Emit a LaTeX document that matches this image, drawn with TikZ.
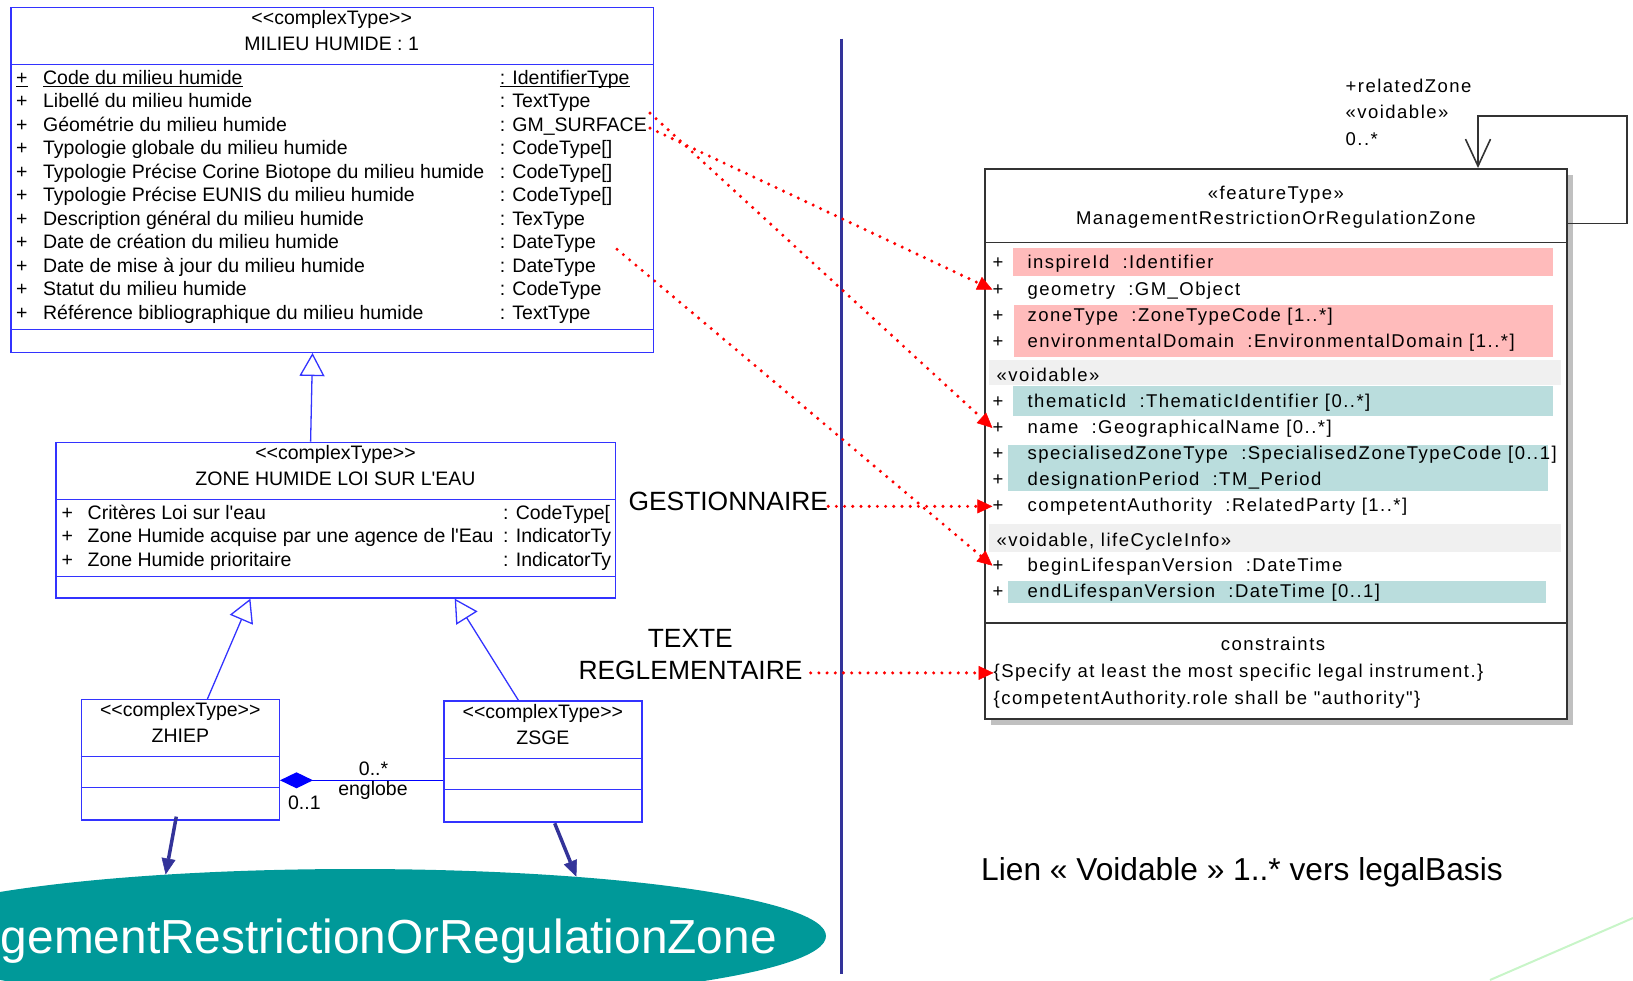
\documentclass[tikz,border=0pt]{standalone}
\usepackage{fontspec}
\newfontfamily\umlfont{Liberation Sans}
\newfontfamily\zonefont{Liberation Sans}[LetterSpace=8]
\usetikzlibrary{arrows.meta,shapes.geometric,positioning}

\definecolor{umlblue}{RGB}{51,51,255}
\definecolor{barblue}{RGB}{51,51,153}
\definecolor{mrzteal}{RGB}{0,153,153}
\definecolor{bandpink}{RGB}{255,187,187}
\definecolor{bandteal}{RGB}{186,221,221}
\definecolor{bandgray}{RGB}{240,240,240}
\definecolor{shadowgray}{RGB}{192,192,192}
\definecolor{boxgray}{RGB}{51,51,51}
\definecolor{paleg}{RGB}{200,245,200}

\begin{document}
\begin{tikzpicture}[x=1pt, y=-1pt,
    cls/.style={draw=umlblue, line width=1.3pt, anchor=north west, inner sep=0pt},
    divider/.style={umlblue, line width=1.3pt},
    attr/.style={font=\umlfont\fontsize{19.5}{23}\selectfont, inner sep=0pt, anchor=base west},
    clsname/.style={attr, anchor=base},
    zattr/.style={font=\zonefont\fontsize{18.5}{22}\selectfont, inner sep=0pt, anchor=base west},
    ztitle/.style={zattr, anchor=base},
    bigtext/.style={font=\umlfont\fontsize{26.4}{31}\selectfont, inner sep=0pt, anchor=base},
    boxline/.style={boxgray, line width=1.8pt},
    gen/.style={umlblue, line width=1.3pt, -{Triangle[open, length=23pt, width=25pt, fill=white]}},
    comp/.style={blue, line width=1.3pt, {Diamond[length=33pt, width=16pt, fill=blue]}-},
    impl/.style={barblue, line width=3.5pt, -{Triangle[length=16pt, width=14pt, line width=0.5pt]}},
    selfref/.style={boxgray, line width=1.6pt, -{Straight Barb[length=27pt, width=25pt]}},
    link/.style={red, line width=3.4pt, line cap=round, dash pattern=on 0pt off 8.2pt,
      -{Triangle[length=15pt, width=14pt, line width=0.5pt]}}]
  \useasboundingbox (0,0) rectangle (1633,980);

  % zone in the teal ellipse
  \node[ellipse, fill=mrzteal, minimum width=942pt, minimum height=134pt, inner sep=0pt] (mrz) at (355,936) {};
  \node[font=\umlfont\fontsize{47.8}{50}\selectfont, text=white, inner sep=0pt, anchor=base east] (mrz-nm) at (777,953.3) {gementRestrictionOrRegulationZone};

  % MILIEU HUMIDE
  \node[cls, minimum width=642.6pt, minimum height=344.7pt] (milieu) at (10.4,7) {};
  \draw[divider] (milieu.west |- 0,64.3) -- (milieu.east |- 0,64.3);
  \draw[divider] (milieu.west |- 0,329.3) -- (milieu.east |- 0,329.3);
  \node[clsname] (milieu-st) at (331.7,24.5) {<<complexType>>};
  \node[clsname] (milieu-nm) at (331.7,50.7) {MILIEU HUMIDE : 1};
  \node[clsname] (mp1) at (21.9,84.3) {\underline{+}};
  \node[attr] (mn1) at (42.9,84.3) {\underline{Code du milieu humide}};
  \node[attr] (mt1) at (499.6,84.3) {\underline{\smash{: IdentifierType}\vphantom{C}}};
  \foreach \nm/\ty [count=\i from 2] in {
      {Libellé du milieu humide}/{: TextType},
      {Géométrie du milieu humide}/{: GM\_SURFACE},
      {Typologie globale du milieu humide}/{: CodeType[]},
      {Typologie Précise Corine Biotope du milieu humide}/{: CodeType[]},
      {Typologie Précise EUNIS du milieu humide}/{: CodeType[]},
      {Description général du milieu humide}/{: TexType},
      {Date de création du milieu humide}/{: DateType},
      {Date de mise à jour du milieu humide}/{: DateType},
      {Statut du milieu humide}/{: CodeType},
      {Référence bibliographique du milieu humide}/{: TextType}}{
    \node[clsname] (mp\i) at (21.9,{84.3+23.5*(\i-1)}) {+};
    \node[attr] (mn\i) at (42.9,{84.3+23.5*(\i-1)}) {\nm};
    \node[attr] (mt\i) at (499.6,{84.3+23.5*(\i-1)}) {\ty};
  }

  % ZONE HUMIDE LOI SUR L'EAU
  \node[cls, minimum width=559.3pt, minimum height=155.6pt] (zone) at (55.2,441.7) {};
  \draw[divider] (zone.west |- 0,499.3) -- (zone.east |- 0,499.3);
  \draw[divider] (zone.west |- 0,576.7) -- (zone.east |- 0,576.7);
  \node[clsname] (zone-st) at (zone.north |- 0,459) {<<complexType>>};
  \node[clsname] (zone-nm) at (zone.north |- 0,485.2) {ZONE HUMIDE LOI SUR L'EAU};
  \foreach \nm/\ty [count=\i] in {
      {Critères Loi sur l'eau}/{: CodeType[},
      {Zone Humide acquise par une agence de l'Eau}/{: IndicatorTy},
      {Zone Humide prioritaire}/{: IndicatorTy}}{
    \node[clsname] (zp\i) at (67.3,{519.3+23.4*(\i-1)}) {+};
    \node[attr] (zn\i) at (87.5,{519.3+23.4*(\i-1)}) {\nm};
    \node[attr] (zt\i) at (503,{519.3+23.4*(\i-1)}) {\ty};
  }

  % ZHIEP and ZSGE
  \node[cls, minimum width=198.1pt, minimum height=120.3pt] (zhiep) at (80.6,699) {};
  \draw[divider] (zhiep.west |- 0,756.3) -- (zhiep.east |- 0,756.3);
  \draw[divider] (zhiep.west |- 0,787.3) -- (zhiep.east |- 0,787.3);
  \node[clsname] (zhiep-st) at (zhiep.north |- 0,716.3) {<<complexType>>};
  \node[clsname] (zhiep-nm) at (zhiep.north |- 0,742.9) {ZHIEP};
  \node[cls, minimum width=198.1pt, minimum height=121pt] (zsge) at (443.2,700.3) {};
  \draw[divider] (zsge.west |- 0,758.3) -- (zsge.east |- 0,758.3);
  \draw[divider] (zsge.west |- 0,789.3) -- (zsge.east |- 0,789.3);
  \node[clsname] (zsge-st) at (zsge.north |- 0,718.7) {<<complexType>>};
  \node[clsname] (zsge-nm) at (zsge.north |- 0,744.6) {ZSGE};

  \draw[gen] (zone.north -| 310.6,0) -- (milieu.south -| 312.5,0);
  \draw[gen] (zhiep.north -| 207.4,0) -- (zone.south -| 250.4,0);
  \draw[gen] (zsge.north -| 518.4,0) -- (zone.south -| 454.7,0);
  \draw[comp] (zhiep.east |- 0,780.3) -- (zsge.west |- 0,780.3);
  \node[clsname] (mult-a) at (373.6,775.5) {0..*};
  \node[clsname] (role) at (373,795.2) {englobe};
  \node[clsname] (mult-b) at (304.4,809.6) {0..1};
  \draw[impl] ([xshift=-4pt,yshift=4pt]zhiep.south) -- (mrz.162);
  \draw[impl] ([xshift=11.8pt,yshift=-0.7pt]zsge.south) -- (mrz.15.7);

  % separator bar
  \draw[barblue, line width=3.3pt] (841.7,38.5) -- (841.7,974);

  % INSPIRE feature type
  \fill[shadowgray] (991,175) rectangle (1573,725);
  \node[draw=boxgray, fill=white, line width=1.8pt, anchor=north west, inner sep=0pt,
    minimum width=582pt, minimum height=550.3pt] (fz) at (984,168) {};
  \fill[bandpink] (1013,248.3) rectangle (1553,275.7);
  \fill[bandpink] (1014,305) rectangle (1553,356.7);
  \fill[bandgray] (989,360) rectangle (1561,384.5);
  \fill[bandteal] (1013,385.7) rectangle (1553,415.7);
  \fill[bandteal] (1008,445) rectangle (1548,490.7);
  \fill[bandgray] (989,524) rectangle (1561,551.7);
  \fill[bandteal] (1008,581) rectangle (1546,602.7);
  \draw[boxline] (fz.west |- 0,242.5) -- (fz.east |- 0,242.5);
  \draw[boxline] (fz.west |- 0,623.3) -- (fz.east |- 0,623.3);
  \node[ztitle] (fz-st) at (fz.north |- 0,199) {«featureType»};
  \node[ztitle] (fz-nm) at (fz.north |- 0,224.5) {ManagementRestrictionOrRegulationZone};
  \foreach \i/\yy/\txt in {
      1/262.7/{inspireId\ \ :Identifier},
      2/289/{geometry\ \ :GM\_Object},
      3/315.3/{zoneType\ \ :ZoneTypeCode [1..*]},
      4/341/{environmentalDomain\ \ :EnvironmentalDomain [1..*]},
      5/401/{thematicId\ \ :ThematicIdentifier [0..*]},
      6/427.3/{name\ \ :GeographicalName [0..*]},
      7/453.3/{specialisedZoneType\ \ :SpecialisedZoneTypeCode [0..1]},
      8/479/{designationPeriod\ \ :TM\_Period},
      9/505.7/{competentAuthority\ \ :RelatedParty [1..*]},
      10/565/{beginLifespanVersion\ \ :DateTime},
      11/591.7/{endLifespanVersion\ \ :DateTime [0..1]}}{
    \node[ztitle] (fp\i) at (998,\yy+6) {+};
    \node[zattr] (fa\i) at (1027.4,\yy+6) {\txt};
  }
  \node[zattr] (grp1) at (996.5,381) {«voidable»};
  \node[zattr] (grp2) at (996.5,546) {«voidable, lifeCycleInfo»};
  \node[ztitle] (cstr) at (1273,650.3) {constraints};
  \node[zattr] (cs1) at (993.5,677.7) {\{Specify at least the most specific legal instrument.\}};
  \node[zattr] (cs2) at (993.5,704.3) {\{competentAuthority.role shall be "authority"\}};

  % relatedZone self association
  \draw[selfref] (fz.east |- 0,223.3) -| (1627,115.7) -| (fz.north -| 1478,0);
  \node[zattr] (rz1) at (1345.4,92.7) {+relatedZone};
  \node[zattr] (rz2) at (1345.4,118.3) {«voidable»};
  \node[zattr] (rz3) at (1345.4,145.5) {0..*};

  % notes
  \node[bigtext, anchor=base west] (gest) at (628.3,510.7) {GESTIONNAIRE};
  \node[bigtext] (texte) at (690.3,647.7) {TEXTE};
  \node[bigtext] (regl) at (690.5,679.3) {REGLEMENTAIRE};
  \node[font=\umlfont\fontsize{31.7}{36}\selectfont, inner sep=0pt, anchor=base west] (lien) at (981,880)
    {Lien « Voidable » 1..* vers legalBasis};
  \draw[paleg, line width=2pt] (1490,980) -- (1633,918);

  % mapping arrows
  \draw[link] ([xshift=3pt,yshift=13.3pt]mt3.east) -- (fp6.west);
  \draw[link] ([xshift=3pt,yshift=-1.7pt]mt3.east) -- (fp2.west);
  \draw[link] ([xshift=21pt,yshift=-5.2pt]mt8.east) -- (fp10.west);
  \draw[link] (gest.east |- fp9.west) -- (fp9.west);
  \draw[link] ([xshift=8pt]regl.east |- cs1.west) -- (cs1.west);
\end{tikzpicture}
\end{document}
